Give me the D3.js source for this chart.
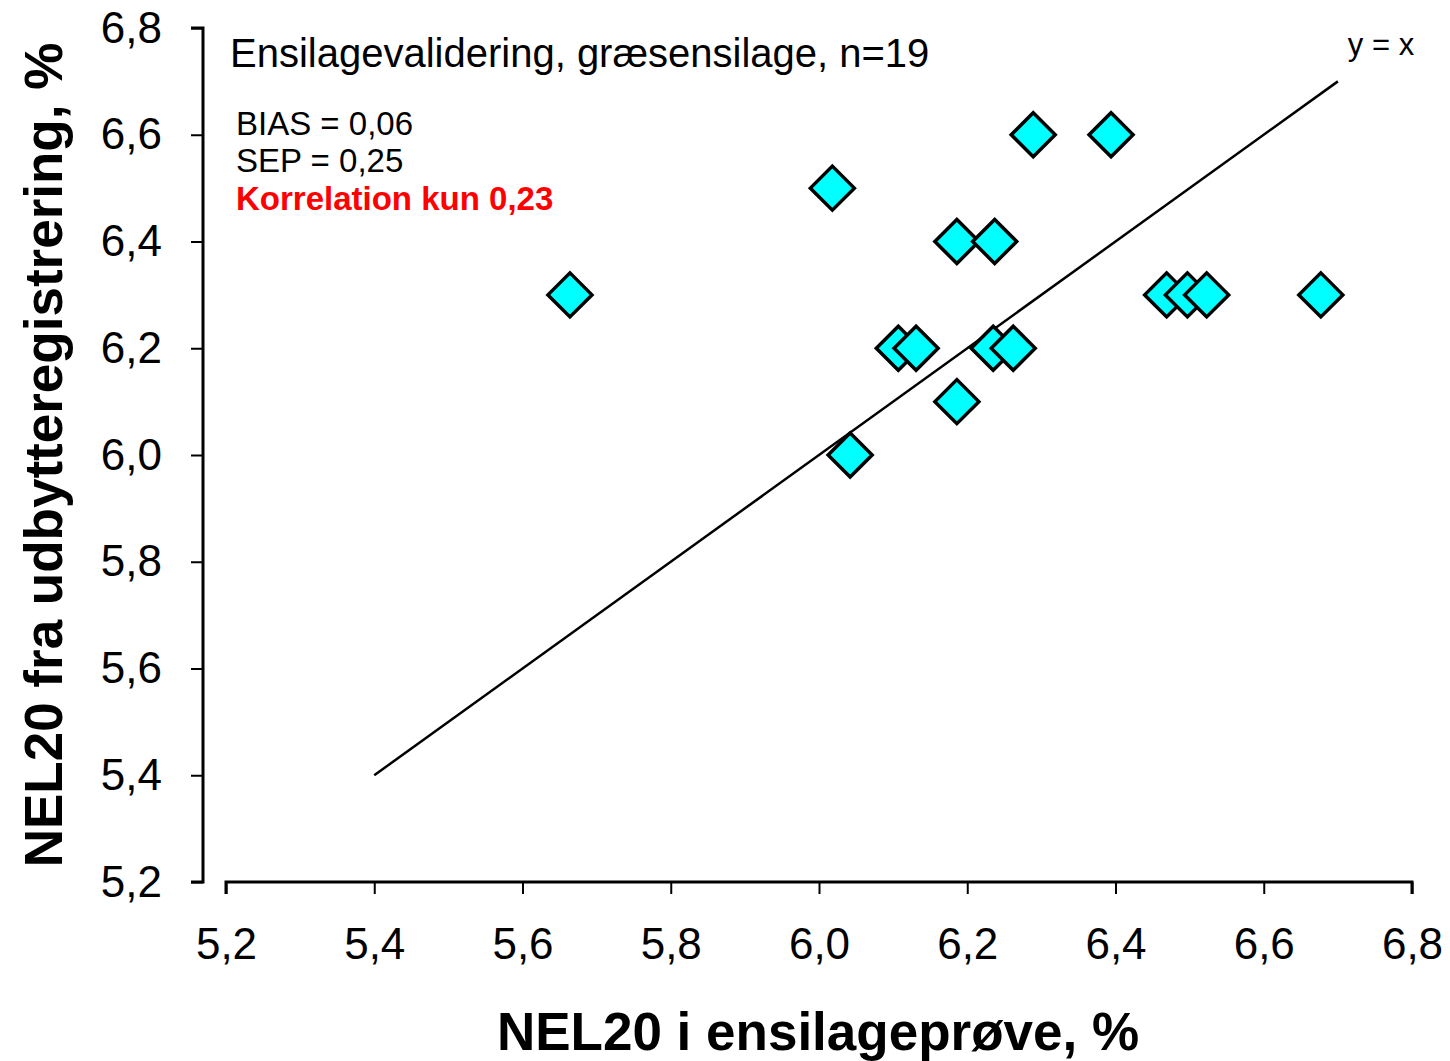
<!DOCTYPE html>
<html>
<head>
<meta charset="utf-8">
<script src="https://cdn.jsdelivr.net/npm/d3@7"></script>
<style>
  body { margin: 0; background: #fff; }
  text { font-family: "Liberation Sans", Arial, sans-serif; }
</style>
</head>
<body>
<svg id="chart" width="1450" height="1061"></svg>
<script>
// målte værdier (ensilageprøve vs. udbytteregistrering)
const xVals = [5.664, 6.018, 6.042, 6.107, 6.131, 6.186, 6.186, 6.237, 6.235, 6.262, 6.289, 6.394, 6.469, 6.497, 6.523, 6.677];
const yVals = [6.3, 6.5, 6.0, 6.2, 6.2, 6.4, 6.1, 6.4, 6.2, 6.2, 6.6, 6.6, 6.3, 6.3, 6.3, 6.3];
const tickVals = [5.2, 5.4, 5.6, 5.8, 6.0, 6.2, 6.4, 6.6, 6.8];
const lineEnds = [5.4, 6.7];
const infoLines = ["BIAS = 0,06", "SEP = 0,25"];

const svg = d3.select("#chart");
const fmt = d => d.toFixed(1).replace(".", ",");

const x = d3.scaleLinear().domain([5.2, 6.8]).range([226, 1412]);
const y = d3.scaleLinear().domain([5.2, 6.8]).range([882, 28]);

// y-akse
const yAxis = svg.append("g")
  .attr("transform", "translate(203,0)")
  .call(d3.axisLeft(y).tickValues(tickVals).tickFormat(fmt).tickSize(12).tickPadding(29));
yAxis.select(".domain").attr("d", `M-12,${y(6.8)}H0V${y(5.2)}H-12`).attr("stroke-width", 3);

// x-akse
const xAxis = svg.append("g")
  .attr("transform", "translate(0,882)")
  .call(d3.axisBottom(x).tickValues(tickVals).tickFormat(fmt).tickSize(12).tickPadding(34));
xAxis.select(".domain").attr("d", `M${x(5.2)},12V0H${x(6.8)}V12`).attr("stroke-width", 3);

svg.selectAll(".tick line").attr("stroke-width", 2);
svg.selectAll(".tick text").attr("font-size", 44).attr("fill", "#000")
  .style("font-family", '"Liberation Sans", Arial, sans-serif');
xAxis.selectAll(".tick text").attr("dy", "0.71em");

// y = x linje
svg.append("line")
  .attr("x1", x(lineEnds[0])).attr("y1", y(lineEnds[0]))
  .attr("x2", x(lineEnds[1])).attr("y2", y(lineEnds[1]))
  .attr("stroke", "#000").attr("stroke-width", 2.5);

svg.append("text").attr("x", 1381).attr("y", 55).attr("text-anchor", "middle")
  .attr("font-size", 31).text("y = x");

// punkter
const pts = xVals.map((v, i) => ({ x: v, y: yVals[i] }));
svg.selectAll(".pt").data(pts).enter().append("path")
  .attr("class", "pt")
  .attr("transform", d => `translate(${x(d.x)},${y(d.y)})`)
  .attr("d", "M0,-22L22,0L0,22L-22,0Z")
  .attr("fill", "#00ffff").attr("stroke", "#000").attr("stroke-width", 3.5)
  .attr("stroke-linejoin", "miter");

// tekster
svg.append("text").attr("x", 230).attr("y", 67).attr("font-size", 40)
  .text("Ensilagevalidering, græsensilage, n=19");
svg.selectAll(".info").data(infoLines).enter().append("text")
  .attr("x", 236).attr("y", (d, i) => 135 + i * 37).attr("font-size", 33).text(d => d);
svg.append("text").attr("x", 236).attr("y", 210).attr("font-size", 33)
  .attr("font-weight", "bold").attr("fill", "#ff0000").text("Korrelation kun 0,23");

// aksetitler
svg.append("text").attr("x", 818).attr("y", 1050).attr("text-anchor", "middle")
  .attr("font-size", 53).attr("font-weight", "bold").text("NEL20 i ensilageprøve, %");
svg.append("text").attr("transform", "translate(62,455) rotate(-90)").attr("text-anchor", "middle")
  .attr("font-size", 53).attr("font-weight", "bold").text("NEL20 fra udbytteregistrering, %");
</script>
</body>
</html>
